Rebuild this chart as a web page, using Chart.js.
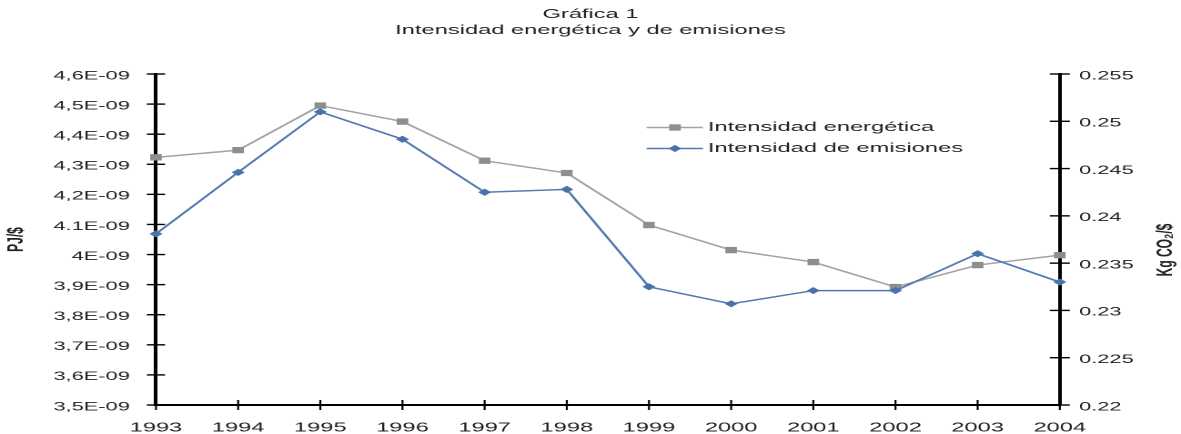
<!DOCTYPE html>
<html>
<head>
<meta charset="utf-8">
<script src="https://cdn.jsdelivr.net/npm/chart.js@4/dist/chart.umd.min.js"></script>
<style>
  html, body { margin: 0; padding: 0; background: #ffffff; overflow: hidden; }
  #c { display: block; }
</style>
</head>
<body>
<canvas id="c" width="649" height="434" style="width:1181px;height:434px;"></canvas>
<script>
// ---- data ----
const years = ['1993','1994','1995','1996','1997','1998','1999','2000','2001','2002','2003','2004'];
const energyIntensity = [4.323e-9, 4.347e-9, 4.495e-9, 4.442e-9, 4.312e-9, 4.271e-9, 4.098e-9, 4.015e-9, 3.975e-9, 3.892e-9, 3.965e-9, 3.998e-9];
const emissionsIntensity = [0.2381, 0.2446, 0.2510, 0.2481, 0.2425, 0.2428, 0.2325, 0.2307, 0.2321, 0.2321, 0.2360, 0.2330];
const leftTickLabels = ['3,5E-09','3,6E-09','3,7E-09','3,8E-09','3,9E-09','4E-09','4.1E-09','4,2E-09','4,3E-09','4,4E-09','4,5E-09','4,6E-09'];
const rightTickLabels = ['0.22','0.225','0.23','0.235','0.24','0.245','0.25','0.255'];
const seriesNames = ['Intensidad energética', 'Intensidad de emisiones'];
const titleLines = ['Gráfica 1', 'Intensidad energética y de emisiones'];
const leftAxisTitle = 'PJ/$';
const rightAxisTitle = 'Kg CO₂/$';

const FONT = "'Liberation Sans', Arial, Helvetica, sans-serif";
const TEXT = '#222222';
const GRAY_LINE = '#a3a3a3', GRAY_PT = '#8e8e8e';
const BLUE_LINE = '#5479b0', BLUE_PT = '#4a72aa';

Chart.defaults.font.family = FONT;
Chart.defaults.color = TEXT;

const crossTicks = {
  id: 'crossTicks',
  beforeDatasetsDraw(chart) {
    const {ctx, scales} = chart;
    const seg = (x1, y1, x2, y2) => { ctx.beginPath(); ctx.moveTo(x1, y1); ctx.lineTo(x2, y2); ctx.stroke(); };
    ctx.save();
    ctx.strokeStyle = '#000';
    ctx.lineWidth = 1.4;
    const yl = scales.y, yr = scales.y1, xs = scales.x;
    yl.ticks.forEach((t, i) => { const p = yl.getPixelForTick(i); seg(yl.right - 5, p, yl.right + 5, p); });
    yr.ticks.forEach((t, i) => { const p = yr.getPixelForTick(i); seg(yr.left - 5.5, p, yr.left + 5.5, p); });
    ctx.lineWidth = 1.1;
    xs.ticks.forEach((t, i) => { const p = xs.getPixelForTick(i); seg(p, xs.top - 5, p, xs.top + 5); });
    ctx.restore();
  }
};

const extras = {
  id: 'extras',
  afterDraw(chart) {
    const {ctx, scales} = chart;
    ctx.save();
    // right axis title, reading upward
    ctx.font = 'bold 12px ' + FONT;
    ctx.fillStyle = TEXT;
    ctx.textAlign = 'center';
    ctx.textBaseline = 'middle';
    ctx.translate(scales.y1.right - 8.3, 250);
    ctx.rotate(-Math.PI / 2);
    ctx.fillText(rightAxisTitle, 0, 0);
    ctx.restore();

    // legend inside plot
    const ds = chart.data.datasets;
    const rows = [127.5, 148.5];
    ctx.save();
    ctx.font = '13px ' + FONT;
    ctx.textBaseline = 'middle';
    ctx.textAlign = 'left';
    ds.forEach((d, i) => {
      const y = rows[i];
      ctx.strokeStyle = d.borderColor;
      ctx.lineWidth = d.borderWidth;
      ctx.beginPath(); ctx.moveTo(355.3, y); ctx.lineTo(386.3, y); ctx.stroke();
      ctx.fillStyle = d.pointBackgroundColor;
      const cx = 370.9;
      if (d.pointStyle === 'rect') {
        const s = d.pointRadius * Math.SQRT1_2;
        ctx.fillRect(cx - s, y - s, 2 * s, 2 * s);
      } else {
        const r = d.pointRadius;
        ctx.beginPath(); ctx.moveTo(cx, y - r); ctx.lineTo(cx + r, y); ctx.lineTo(cx, y + r); ctx.lineTo(cx - r, y); ctx.closePath(); ctx.fill();
      }
      ctx.fillStyle = TEXT;
      ctx.fillText(d.label, 389, y);
    });
    ctx.restore();
  }
};

new Chart(document.getElementById('c'), {
  type: 'line',
  data: {
    labels: years,
    datasets: [
      {
        label: seriesNames[0],
        data: energyIntensity,
        yAxisID: 'y',
        borderColor: GRAY_LINE,
        backgroundColor: GRAY_PT,
        pointBackgroundColor: GRAY_PT,
        pointBorderColor: GRAY_PT,
        pointBorderWidth: 0,
        borderWidth: 1.5,
        pointStyle: 'rect',
        pointRadius: 4.5,
        tension: 0,
        order: 1
      },
      {
        label: seriesNames[1],
        data: emissionsIntensity,
        yAxisID: 'y1',
        borderColor: BLUE_LINE,
        backgroundColor: BLUE_PT,
        pointBackgroundColor: BLUE_PT,
        pointBorderColor: BLUE_PT,
        pointBorderWidth: 0,
        borderWidth: 1.5,
        pointStyle: 'rectRot',
        pointRadius: 3.6,
        tension: 0,
        order: 0
      }
    ]
  },
  options: {
    responsive: false,
    devicePixelRatio: 2,
    animation: false,
    events: [],
    layout: { padding: 0 },
    plugins: {
      legend: { display: false },
      tooltip: { enabled: false },
      title: {
        display: true,
        text: titleLines,
        color: TEXT,
        font: { size: 13, weight: 'normal', lineHeight: '16px' },
        padding: { top: 6.5, bottom: 35.5 }
      }
    },
    scales: {
      x: {
        type: 'category',
        offset: false,
        grid: { display: false, drawTicks: false },
        border: { display: true, color: '#000', width: 2 },
        ticks: { font: { size: 13 }, color: TEXT, padding: 15, maxRotation: 0, autoSkip: false },
        afterFit(s) { s.height = 29; }
      },
      y: {
        type: 'linear',
        position: 'left',
        min: 3.5e-9,
        max: 4.6e-9,
        grid: { display: false, drawTicks: false },
        border: { display: true, color: '#000', width: 2 },
        ticks: {
          stepSize: 1e-10,
          font: { size: 12 },
          color: TEXT,
          padding: 14.3,
          labelOffset: 2,
          callback: (v, i) => leftTickLabels[i]
        },
        title: {
          display: true,
          text: leftAxisTitle,
          color: TEXT,
          font: { size: 12, weight: 'bold' },
          padding: { top: 2, bottom: 0 }
        },
        afterFit(s) { s.width = 85.7; }
      },
      y1: {
        type: 'linear',
        position: 'right',
        min: 0.22,
        max: 0.255,
        grid: { display: false, drawTicks: false },
        border: { display: true, color: '#000', width: 2 },
        ticks: {
          stepSize: 0.005,
          font: { size: 12 },
          color: TEXT,
          padding: 10.6,
          labelOffset: 2,
          callback: (v, i) => rightTickLabels[i]
        },
        afterFit(s) { s.width = 66.6; }
      }
    }
  },
  plugins: [crossTicks, extras]
});
</script>
</body>
</html>
